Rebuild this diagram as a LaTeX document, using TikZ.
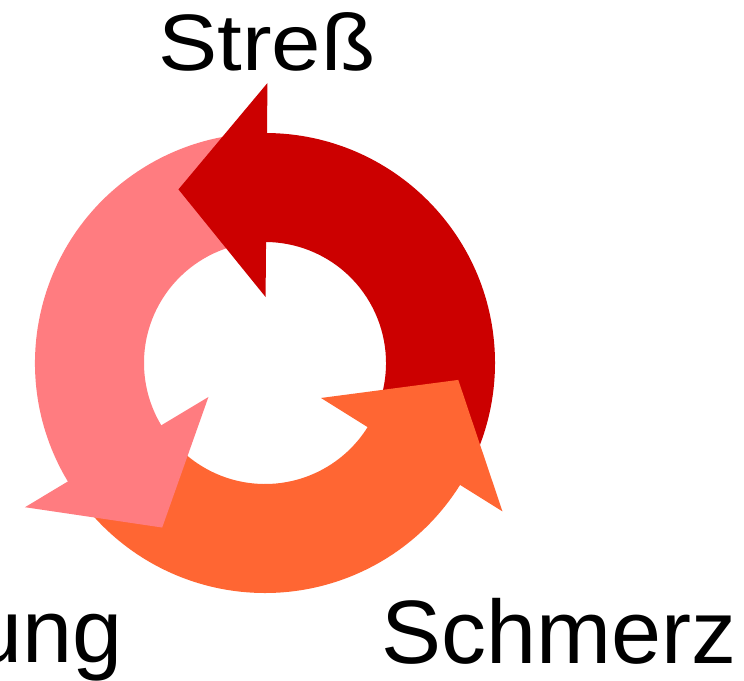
\documentclass[tikz,border=0pt]{standalone}
\usepackage{graphicx}
\usepackage{fontspec}
\setmainfont{Liberation Sans}
\definecolor{cdark}{RGB}{204,0,0}
\definecolor{corange}{RGB}{255,102,51}
\definecolor{cpink}{RGB}{255,124,128}
\begin{document}
\begin{tikzpicture}[x=1bp,y=1bp,
  lbl/.style={inner sep=0pt, font=\fontsize{90bp}{100bp}\selectfont, text=black}]
\useasboundingbox (0,0) rectangle (744,-681);
\fill[white] (0,0) rectangle (744,-681);
\begin{scope}[shift={(265,-363)}]
  % shafts
  \fill[cdark] (-26:121bp) arc[start angle=-26,end angle=91,radius=121bp] -- (91:230bp) arc[start angle=91,end angle=-26,radius=230bp] -- cycle;
  \fill[corange] (-143:121bp) arc[start angle=-143,end angle=-31,radius=121bp] -- (-31:230bp) arc[start angle=-31,end angle=-143,radius=230bp] -- cycle;
  \fill[cpink] (95:121bp) arc[start angle=95,end angle=212,radius=121bp] -- (212:230bp) arc[start angle=212,end angle=95,radius=230bp] -- cycle;
  % heads
  \fill[cdark] (89.5:66bp) -- (116.5:194bp) -- (89.5:280bp) -- cycle;
  \fill[corange] (-32:66bp) -- (-5:194bp) -- (-32:280bp) -- cycle;
  \fill[cpink] (211:66bp) -- (238:194bp) -- (211:280bp) -- cycle;
\end{scope}
\node[lbl, anchor=base west] (stress) at (158,-71) {\scalebox{1.11}[1]{\fontsize{80bp}{90bp}\selectfont Streß}};
\node[lbl, anchor=base west] (schmerz) at (381,-663) {Schmerz};
\node[lbl, anchor=base east] (ung) at (123,-662) {ung};
\end{tikzpicture}
\end{document}
